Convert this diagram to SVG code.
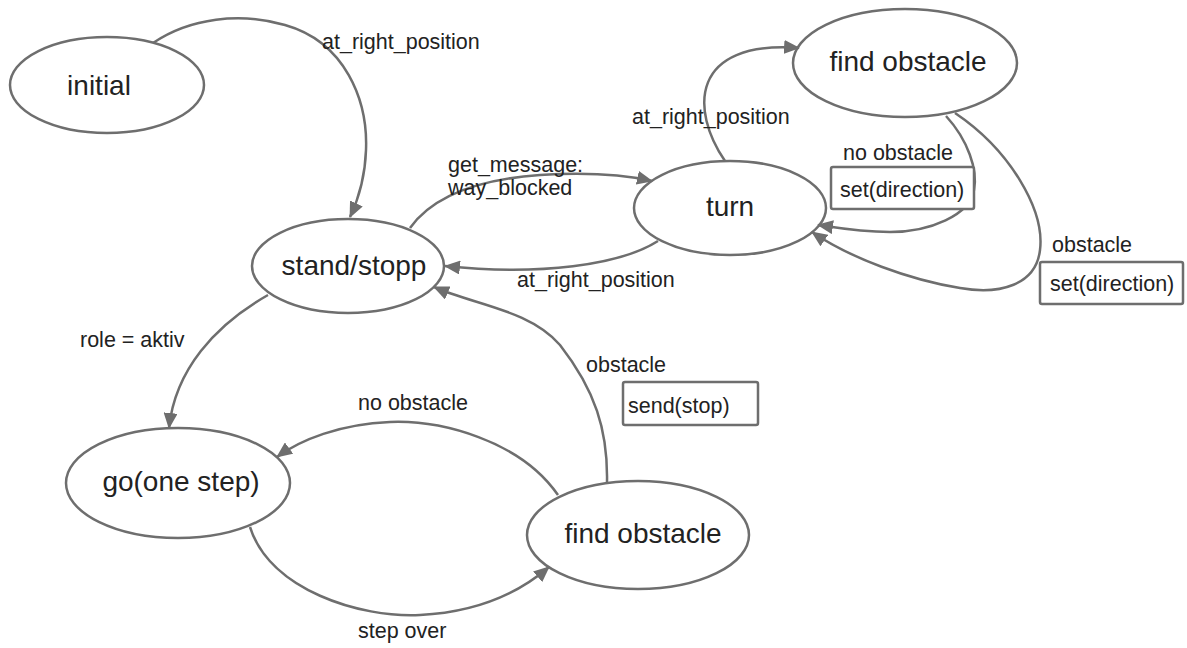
<svg xmlns="http://www.w3.org/2000/svg" width="1187" height="648" viewBox="0 0 1187 648">
<style>
.node ellipse{fill:#fff;stroke:#6e6e6e;stroke-width:2.5}
.nl{font-family:"Liberation Sans",Arial,sans-serif;font-size:28px;fill:#222;text-anchor:middle}
.el{font-family:"Liberation Sans",Arial,sans-serif;font-size:21.5px;fill:#222}
.edge{fill:none;stroke:#6e6e6e;stroke-width:2.5;marker-end:url(#arr)}
.box{fill:#fff;stroke:#6e6e6e;stroke-width:2.5}
</style>
<defs>
<marker id="arr" viewBox="0 0 16 14" refX="15" refY="7" markerWidth="16" markerHeight="14" orient="auto" markerUnits="userSpaceOnUse">
<path d="M0,0 L16,7 L0,14 Z" fill="#6e6e6e"/>
</marker>
</defs>
<rect width="1187" height="648" fill="#fff"/>
<g id="n-initial" class="node"><ellipse cx="107" cy="85" rx="97" ry="48"/><text class="nl" x="99" y="95">initial</text></g>
<g id="n-stand" class="node"><ellipse cx="348" cy="266" rx="96" ry="47"/><text class="nl" x="354" y="275">stand/stopp</text></g>
<g id="n-turn" class="node"><ellipse cx="730" cy="208" rx="96" ry="47"/><text class="nl" x="730" y="216">turn</text></g>
<g id="n-find-top" class="node"><ellipse cx="905" cy="63" rx="112" ry="54"/><text class="nl" x="908" y="71">find obstacle</text></g>
<g id="n-go" class="node"><ellipse cx="178" cy="483" rx="112" ry="55"/><text class="nl" x="181" y="491">go(one step)</text></g>
<g id="n-find-bottom" class="node"><ellipse cx="638" cy="535" rx="111" ry="54"/><text class="nl" x="643" y="543">find obstacle</text></g>
<g id="connectors">
<path class="edge" d="M153,43 C190,18 240,12 285,25 C345,42 368,100 366,150 C365,180 358,200 350,217"/>
<path class="edge" d="M410,228 C430,200 470,180 540,175 C590,172 625,175 652,181"/>
<path class="edge" d="M658,241 C620,265 540,276 445,266"/>
<path class="edge" d="M725,161 C690,110 690,40 799,48"/>
<path class="edge" d="M946,116 C968,140 978,170 974,190 C970,215 930,232 890,232 C860,232 838,228 818,225"/>
<path class="edge" d="M955,113 C1010,150 1045,210 1040,250 C1036,285 1000,295 960,288 C910,280 850,258 812,232"/>
<path class="edge" d="M268,295 C215,325 175,370 169,428"/>
<path class="edge" d="M558,495 C520,440 440,420 390,422 C340,424 300,440 277,457"/>
<path class="edge" d="M250,527 C270,590 360,618 420,615 C480,612 520,592 549,567"/>
<path class="edge" d="M607,482 C608,430 595,390 560,345 C530,310 475,305 434,287"/>
</g>
<g id="labels">
<text class="el" x="322" y="49">at_right_position</text>
<text class="el" x="448" y="172">get_message:</text>
<text class="el" x="448" y="195">way_blocked</text>
<text class="el" x="517" y="287">at_right_position</text>
<text class="el" x="632" y="124">at_right_position</text>
<text class="el" x="843" y="160">no obstacle</text>
<rect class="box" x="831" y="167" width="143" height="42" rx="2"/>
<text class="el" x="840" y="197">set(direction)</text>
<text class="el" x="1052" y="252">obstacle</text>
<rect class="box" x="1040" y="262" width="143" height="42" rx="2"/>
<text class="el" x="1050" y="291">set(direction)</text>
<text class="el" x="80" y="347">role = aktiv</text>
<text class="el" x="586" y="372">obstacle</text>
<rect class="box" x="623" y="382" width="135" height="43" rx="2"/>
<text class="el" x="628" y="413">send(stop)</text>
<text class="el" x="358" y="410">no obstacle</text>
<text class="el" x="358" y="638">step over</text>
</g>
</svg>
